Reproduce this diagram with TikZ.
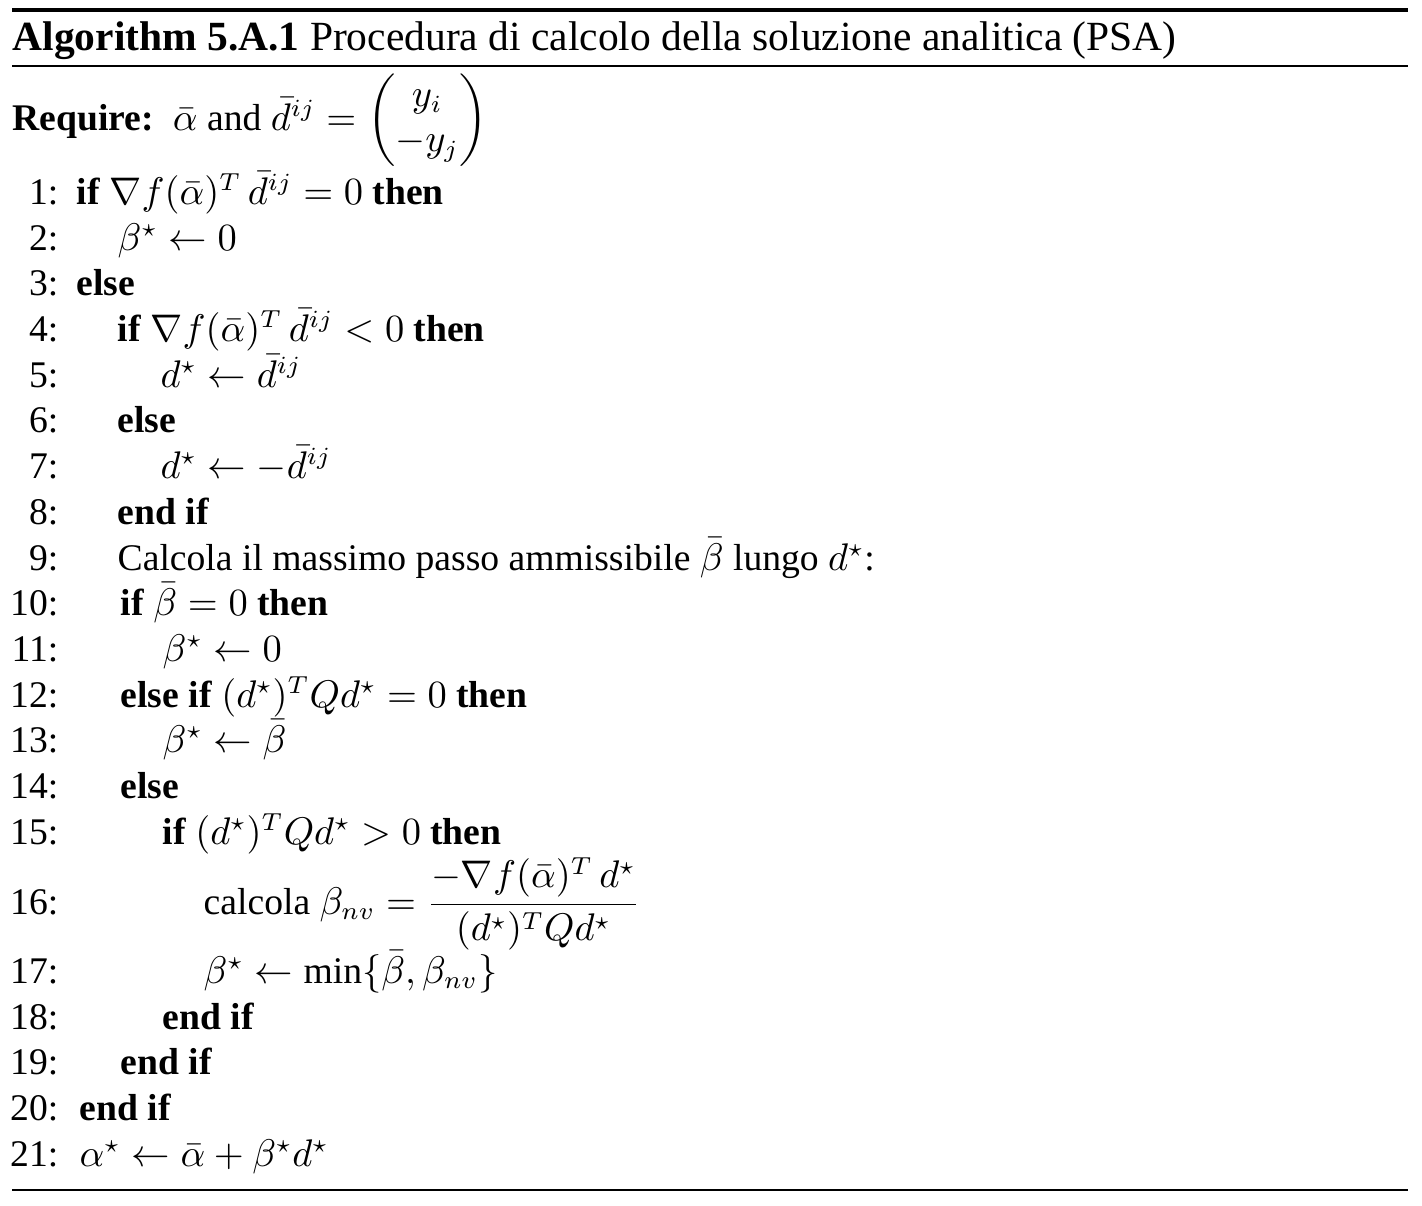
\documentclass[tikz,border=0pt]{standalone}
\usepackage{amsmath}
\usepackage{fontspec}
\setmainfont{Liberation Serif}
\usetikzlibrary{positioning}

\begin{document}
\begin{tikzpicture}[x=0.01cm,y=-0.01cm,
  num/.style={anchor=base east,inner sep=0pt,font=\fontsize{10.7}{12.8}\selectfont},
  txt/.style={anchor=base west,inner sep=0pt,font=\fontsize{10.7}{12.8}\selectfont},
  head/.style={anchor=base west,inner sep=0pt,font=\fontsize{11.8}{14}\selectfont},
  rule/.style={line width=#1}]

\useasboundingbox (0,0) rectangle (1422,1205);

\draw[rule=1.1pt] (12,10) -- (1408,10);
\draw[rule=0.5pt] (12,66) -- (1408,66);
\draw[rule=0.5pt] (12,1190) -- (1408,1190);

\node[head] (title) at (12,50) {\textbf{Algorithm 5.A.1} Procedura di calcolo della soluzione analitica (PSA)};
\node[txt] (req) at (12,130) {\textbf{Require:}\ \ $\bar{\alpha}$ and $\bar{d}^{ij} = \begin{pmatrix} y_i \\ -y_j \end{pmatrix}$};

\foreach \n/\y in {1/204,2/250,3/295,4/341,5/387,6/432,7/478,8/524,9/570,10/615,11/661,12/707,13/752,14/798,15/844,16/914,17/983,18/1029,19/1074,20/1120,21/1166}
  \node[num] (n\n) at (59,\y) {\n:};

\node[txt] (l1) at (76,204) {\textbf{if} $\nabla f(\bar{\alpha})^T\,\bar{d}^{ij} = 0$ \textbf{then}};
\node[txt] (l2) at (117,250) {$\beta^\star \leftarrow 0$};
\node[txt] (l3) at (76,295) {\textbf{else}};
\node[txt] (l4) at (117,341) {\textbf{if} $\nabla f(\bar{\alpha})^T\,\bar{d}^{ij} < 0$ \textbf{then}};
\node[txt] (l5) at (160,387) {$d^\star \leftarrow \bar{d}^{ij}$};
\node[txt] (l6) at (117,432) {\textbf{else}};
\node[txt] (l7) at (160,478) {$d^\star \leftarrow -\bar{d}^{ij}$};
\node[txt] (l8) at (117,524) {\textbf{end if}};
\node[txt] (l9) at (117,570) {Calcola il massimo passo ammissibile $\bar{\beta}$ lungo $d^\star$:};
\node[txt] (l10) at (120,615) {\textbf{if} $\bar{\beta} = 0$ \textbf{then}};
\node[txt] (l11) at (162,661) {$\beta^\star \leftarrow 0$};
\node[txt] (l12) at (120,707) {\textbf{else if} $(d^\star)^T Q d^\star = 0$ \textbf{then}};
\node[txt] (l13) at (162,752) {$\beta^\star \leftarrow \bar{\beta}$};
\node[txt] (l14) at (120,798) {\textbf{else}};
\node[txt] (l15) at (162,844) {\textbf{if} $(d^\star)^T Q d^\star > 0$ \textbf{then}};
\node[txt] (l16) at (203,914) {calcola $\beta_{nv} = \dfrac{-\nabla f(\bar{\alpha})^T\, d^\star}{(d^\star)^T Q d^\star}$};
\node[txt] (l17) at (203,983) {$\beta^\star \leftarrow \min\{\bar{\beta}, \beta_{nv}\}$};
\node[txt] (l18) at (162,1029) {\textbf{end if}};
\node[txt] (l19) at (120,1074) {\textbf{end if}};
\node[txt] (l20) at (79,1120) {\textbf{end if}};
\node[txt] (l21) at (79,1166) {$\alpha^\star \leftarrow \bar{\alpha} + \beta^\star d^\star$};

\end{tikzpicture}
\end{document}
